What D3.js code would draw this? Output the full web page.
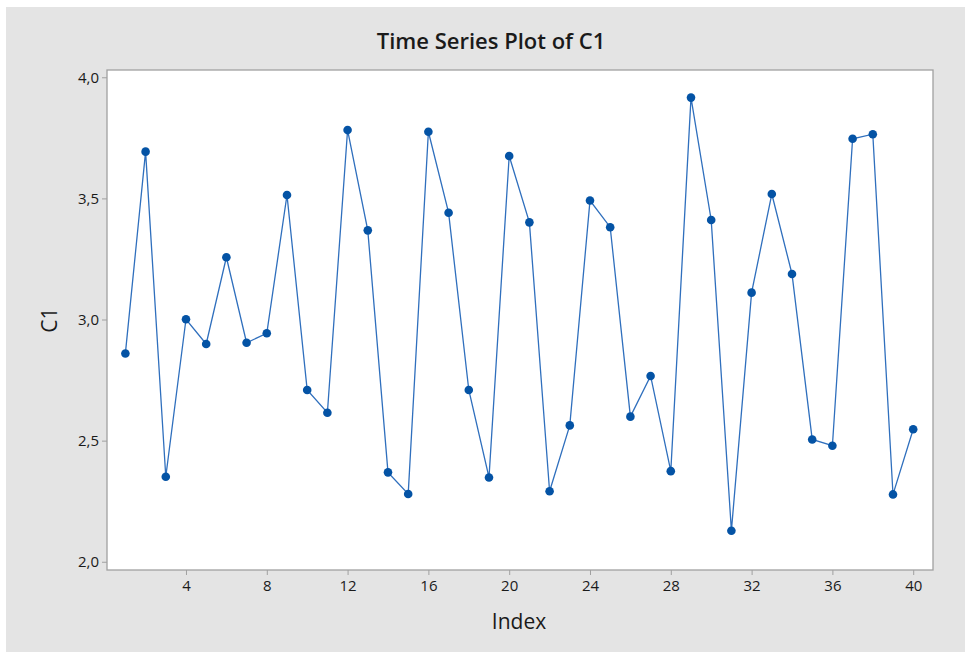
<!DOCTYPE html>
<html>
<head>
<meta charset="utf-8">
<script src="https://cdnjs.cloudflare.com/ajax/libs/d3/7.8.5/d3.min.js"></script>
<style>
  body { margin:0; background:#fff; }
  text { font-family: "Open Sans", "Noto Sans", sans-serif; fill:#1a1a1a; }
</style>
</head>
<body>
<div id="chart"></div>
<script>
// data
var index = d3.range(1, 41)
var c1 = [2.860, 3.693, 2.351, 3.001, 2.899, 3.257, 2.904, 2.943, 3.514, 2.709,
          2.615, 3.782, 3.368, 2.369, 2.280, 3.775, 3.441, 2.709, 2.348, 3.675,
          3.401, 2.291, 2.563, 3.491, 3.381, 2.599, 2.767, 2.374, 3.916, 3.411,
          2.128, 3.111, 3.518, 3.188, 2.505, 2.479, 3.746, 3.765, 2.278, 2.547]
var xTicks = [4, 8, 12, 16, 20, 24, 28, 32, 36, 40]
var yTicks = [2.0, 2.5, 3.0, 3.5, 4.0]

var W = 965, H = 653
// plot frame (note: "top" is taken by window.top, so use p*)
var pLeft = 107, pRight = 933, pTop = 70, pBottom = 570
var lineColor = "#2f6fbd", dotColor = "#0453a5", axisGray = "#a0a0a0"

var svg = d3.select("#chart").append("svg")
  .attr("width", W).attr("height", H)

// gray figure background
svg.append("rect").attr("x", 6).attr("y", 7).attr("width", W - 6).attr("height", 645)
  .attr("fill", "#e4e4e4")

var x = d3.scaleLinear().domain([0.09, 40.98]).range([pLeft, pRight])
var y = d3.scaleLinear().domain([1.966, 4.030]).range([pBottom, pTop])

// plot area
svg.append("rect").attr("x", pLeft).attr("y", pTop)
  .attr("width", pRight - pLeft).attr("height", pBottom - pTop)
  .attr("fill", "#fff").attr("stroke", axisGray).attr("stroke-width", 1.3)

var fmt = function(d){ return d3.format(".1f")(d).replace(".", ",") }

var yAxis = svg.append("g").attr("transform", "translate(" + pLeft + ",0)")
  .call(d3.axisLeft(y).tickValues(yTicks).tickFormat(fmt).tickSize(5).tickPadding(3))
var xAxis = svg.append("g").attr("transform", "translate(0," + pBottom + ")")
  .call(d3.axisBottom(x).tickValues(xTicks).tickSize(5).tickPadding(5))

;[xAxis, yAxis].forEach(function(g){
  g.select(".domain").remove()
  g.selectAll(".tick line").attr("stroke", axisGray)
  g.selectAll(".tick text").attr("font-size", 15).attr("font-weight", 500).attr("fill", "#111")
    .style("font-family", '"Open Sans", "Noto Sans", sans-serif')
})

// series line + markers
var line = d3.line()
  .x(function(d, i){ return x(index[i]) })
  .y(function(d){ return y(d) })

svg.append("path").datum(c1)
  .attr("d", line)
  .attr("fill", "none")
  .attr("stroke", lineColor)
  .attr("stroke-width", 1.3)

svg.selectAll("circle.pt").data(c1).enter()
  .append("circle").attr("class", "pt")
  .attr("cx", function(d, i){ return x(index[i]) })
  .attr("cy", function(d){ return y(d) })
  .attr("r", 4.3)
  .attr("fill", dotColor)

// titles
svg.append("text").attr("x", 491).attr("y", 49)
  .attr("text-anchor", "middle").attr("font-size", 22).attr("font-weight", 600)
  .text("Time Series Plot of C1")

svg.append("text").attr("x", 519).attr("y", 629)
  .attr("text-anchor", "middle").attr("font-size", 21).attr("font-weight", 500)
  .text("Index")

svg.append("text")
  .attr("transform", "translate(57,320) rotate(-90)")
  .attr("text-anchor", "middle").attr("font-size", 21).attr("font-weight", 500)
  .text("C1")
</script>
</body>
</html>
